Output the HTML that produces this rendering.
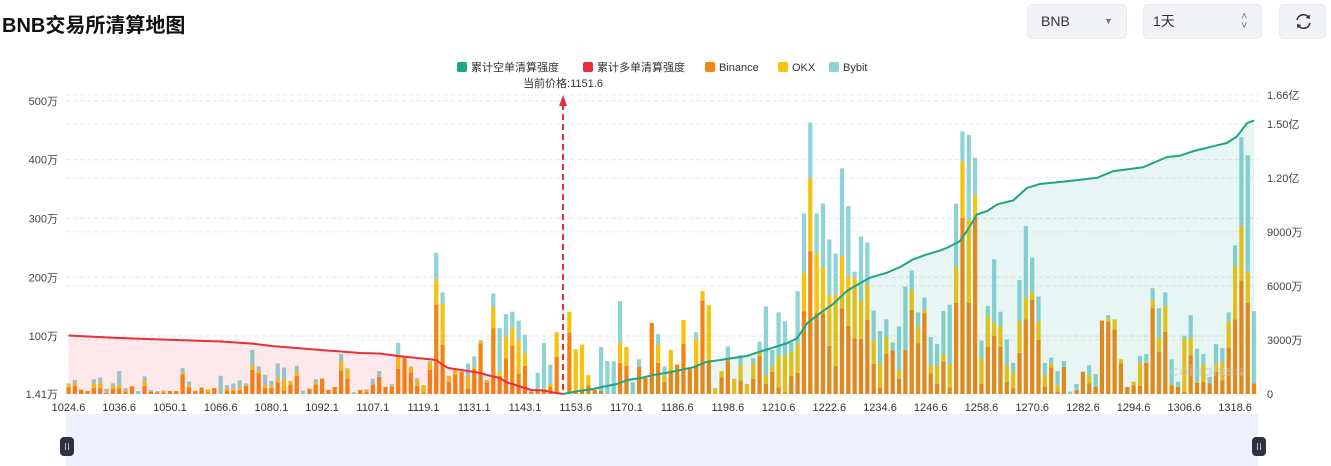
<!DOCTYPE html>
<html><head><meta charset="utf-8">
<style>
html,body{margin:0;padding:0;background:#fff;}
body{width:1331px;height:466px;position:relative;overflow:hidden;font-family:"Liberation Sans","Noto Sans CJK SC",sans-serif;}
.title{position:absolute;left:2px;top:9px;font-size:20px;font-weight:bold;color:#111;}
.ctl{position:absolute;top:4px;height:35px;background:#f1f3f6;border-radius:5px;border:1px solid #e8ebef;box-sizing:border-box;font-size:14px;color:#333;line-height:33px;}
</style></head>
<body>
<div class="title">BNB交易所清算地图</div>
<div class="ctl" style="left:1027px;width:100px;"><span style="position:absolute;left:13px;">BNB</span><span style="position:absolute;left:76px;top:0;font-size:9px;color:#777;">▼</span></div>
<div class="ctl" style="left:1143px;width:119px;"><span style="position:absolute;left:9px;">1天</span><span style="position:absolute;left:97px;top:-1px;font-size:11px;color:#777;line-height:9px;padding-top:9px;">˄<br>˅</span></div>
<div class="ctl" style="left:1279px;width:47px;">
<svg width="47" height="33" viewBox="0 0 47 33"><g fill="none" stroke="#333" stroke-width="1.6"><path d="M17 15 a6.5 6.5 0 0 1 12 -2"/><path d="M30 18 a6.5 6.5 0 0 1 -12 2"/></g><path d="M29.5 9.5 L30 14 L25.8 13 Z" fill="#333"/><path d="M17.5 23.5 L17 19 L21.2 20 Z" fill="#333"/></svg></div>
<svg id="chart" width="1331" height="466" style="position:absolute;left:0;top:0;"></svg>
<script>
const tickLabels=["1024.6","1036.6","1050.1","1066.6","1080.1","1092.1","1107.1","1119.1","1131.1","1143.1","1153.6","1170.1","1186.6","1198.6","1210.6","1222.6","1234.6","1246.6","1258.6","1270.6","1282.6","1294.6","1306.6","1318.6"];
const leftTicks=[1.41,100,200,300,400,500];
const leftTickLabels=["1.41万","100万","200万","300万","400万","500万"];
const rightTicks=[0,3000,6000,9000,12000,15000,16600];
const rightTickLabels=["0","3000万","6000万","9000万","1.20亿","1.50亿","1.66亿"];
const currentPriceIndex=78;
const currentPriceLabel="当前价格:1151.6";
const binance=[11,14,7,5,10,10,2,9,10,4,12,0,14,4,3,3,5,5,33,11,5,11,3,10,0,6,6,6,14,41,35,10,10,20,6,16,31,0,9,16,26,7,12,40,26,0,7,4,16,29,12,12,43,62,37,14,3,41,152,84,20,33,38,9,43,86,20,112,31,61,82,34,48,4,6,6,13,63,2,105,3,6,15,7,5,0,0,53,48,0,46,27,121,53,20,40,50,85,43,48,159,57,0,28,57,0,23,0,26,65,17,38,11,3,31,36,141,243,137,137,82,48,146,116,95,94,126,51,11,68,74,26,75,143,86,137,35,17,56,11,155,300,155,301,17,80,99,80,21,10,70,127,160,92,12,45,4,46,0,7,38,18,12,125,123,110,52,12,15,14,53,146,72,106,15,12,4,66,19,21,18,38,23,79,127,193,155,18];
const okx=[4,5,1,0,7,9,2,5,5,2,2,0,8,0,0,3,0,0,4,4,0,0,5,0,0,4,2,4,1,8,4,6,3,6,17,6,7,0,0,3,0,0,0,16,17,0,0,2,0,0,0,2,22,2,9,10,12,13,43,69,11,8,0,21,3,4,4,36,7,36,31,57,21,0,0,3,4,42,0,35,73,78,17,0,0,0,0,34,32,0,0,0,0,31,12,35,0,41,0,45,16,94,10,11,0,26,26,17,26,6,15,10,54,63,41,51,65,124,102,78,86,120,88,84,102,66,61,41,41,29,0,15,0,34,29,6,14,32,12,40,60,96,141,37,44,52,22,34,28,27,53,37,14,31,20,6,11,0,0,0,0,14,0,0,6,17,7,0,6,39,2,14,23,43,3,0,89,30,2,30,0,14,32,44,91,93,53,0];
const bybit=[3,5,0,0,8,9,5,4,24,4,0,5,8,3,2,0,0,0,7,6,0,0,0,0,31,5,10,13,3,26,8,17,9,26,22,0,10,6,0,6,0,0,0,12,1,3,0,2,10,10,0,3,22,0,1,3,0,2,45,20,0,0,0,22,18,2,0,23,74,39,27,34,32,0,30,78,33,0,0,0,0,0,0,0,75,56,56,71,0,20,13,0,0,18,15,0,0,0,0,12,0,0,0,0,24,0,17,0,9,18,117,27,74,58,15,88,101,95,68,109,95,71,150,120,11,108,71,50,55,30,14,74,108,33,24,21,48,36,73,101,109,51,145,64,30,18,108,26,44,16,71,122,58,43,21,11,24,10,4,10,0,17,22,0,5,0,0,0,0,12,13,20,51,24,41,9,6,38,56,17,11,33,23,16,35,151,198,123];
const longIdx=[0,4,8,13,17,24,29,32,35,40,43,46,49,52,55,58,59,60,62,65,66,68,69,71,73,75,76,78];
const longCum=[3250,3180,3110,3050,3000,2915,2800,2665,2580,2440,2360,2275,2250,2110,2000,1890,1610,1440,1330,1165,1055,890,665,445,220,195,110,0];
const shortIdx=[78,80.7,82.7,84.9,86.5,88.1,90.1,92.2,94.4,96.5,98.5,100.7,102.8,104.8,107,109,111.1,113.3,114.9,116.5,118.5,120.6,122.8,124.8,126.4,129.1,131.2,133.2,135.4,137.5,138.6,140.6,141.7,143.3,144.9,146.5,149,151.2,153.2,157.5,162.2,164.7,169.5,173.3,175.3,177.3,180.5,182.7,184.3,185.9,187];
const shortCum=[0,183,278,444,555,777,871,1055,1183,1333,1482,1793,1888,1999,2110,2350,2570,2815,3093,3925,4480,4997,5735,6143,6457,6735,7050,7475,7750,7975,8120,8490,9050,9970,10160,10530,10750,11440,11660,11810,12000,12365,12590,13160,13230,13470,13750,13935,14300,15040,15190];

const NS="http://www.w3.org/2000/svg";
const svg=document.getElementById('chart');
const X0=68.5,STEP=6.34,BASE=394;
const xAt=i=>X0+i*STEP;
const yL=v=>BASE-(v-1.41)*0.5877;
const yR=v=>BASE-v*0.018012;
function mk(tag,attrs,parent){const e=document.createElementNS(NS,tag);for(const k in attrs)e.setAttribute(k,attrs[k]);(parent||svg).appendChild(e);return e;}

// slider
const sl=mk('rect',{x:66,y:414,width:1192,height:52,fill:'#eef1fd'});


[67,1259].forEach((hx,k)=>{
  const h=mk('rect',{x:hx-7,y:437,width:14,height:19,rx:4,fill:'#2e3142'});
  
  
  mk('line',{x1:hx-1.5,y1:443,x2:hx-1.5,y2:450,stroke:'#bbb','stroke-width':1});
  mk('line',{x1:hx+1.5,y1:443,x2:hx+1.5,y2:450,stroke:'#bbb','stroke-width':1});
});

// grid
leftTicks.forEach((v,i)=>{ if(i===0)return;
  const g=mk('line',{x1:66,x2:1258,y1:yL(v),y2:yL(v),stroke:'#e6e6e6','stroke-dasharray':'4 3','stroke-width':1});
  
  
});
rightTicks.forEach((v,i)=>{ if(i===0)return;
  const g=mk('line',{x1:66,x2:1258,y1:yR(v),y2:yR(v),stroke:'#ececec','stroke-dasharray':'4 3','stroke-width':1});
  
  
});

// axis labels
leftTicks.forEach((v,i)=>{
  const t=mk('text',{x:58,y:yL(v)+4,'text-anchor':'end','font-size':11,fill:'#444'});
  t.textContent=leftTickLabels[i];
  
  
});
rightTicks.forEach((v,i)=>{
  const t=mk('text',{x:1267,y:yR(v)+4,'font-size':11,fill:'#444'});
  t.textContent=rightTickLabels[i];
  
  
});
tickLabels.forEach((s,k)=>{
  const t=mk('text',{x:xAt(k*8),y:411,'text-anchor':'middle','font-size':11,fill:'#333'});
  t.textContent=s;
  
  
});

// bars
const BW=4.2;
binance.forEach((b,i)=>{
  const segs=[[b,'#f5850f','binance'],[okx[i],'#f6c20c','okx'],[bybit[i],'#8ed3d7','bybit']];
  let acc=0;
  segs.forEach(([v,c,n])=>{
    if(v<=0)return;
    const y1=BASE-acc*0.5877, y2=BASE-(acc+v)*0.5877;
    const r=mk('rect',{x:xAt(i)-BW/2,y:y2,width:BW,height:y1-y2,fill:c});
    
    
    acc+=v;
  });
});

// areas + lines
function linePts(idx,vals){return idx.map((i,k)=>[xAt(i),yR(vals[k])]);}
const lp=linePts(longIdx,longCum), sp=linePts(shortIdx,shortCum);
const pathD=p=>p.map((q,k)=>(k?'L':'M')+q[0].toFixed(1)+' '+q[1].toFixed(1)).join(' ');
const la=mk('path',{d:pathD(lp)+` L${lp[lp.length-1][0]} ${BASE} L${lp[0][0]} ${BASE} Z`,fill:'rgba(240,70,90,0.12)'});


const sa=mk('path',{d:pathD(sp)+` L${sp[sp.length-1][0]} ${BASE} L${sp[0][0]} ${BASE} Z`,fill:'rgba(30,170,140,0.10)'});


const ll=mk('path',{d:pathD(lp),fill:'none',stroke:'#e8303d','stroke-width':2,'stroke-linejoin':'round'});


const sl2=mk('path',{d:pathD(sp),fill:'none',stroke:'#1fa584','stroke-width':2,'stroke-linejoin':'round'});



// watermark
const wm=mk('text',{x:1170,y:376,'font-size':16,'font-weight':'bold',fill:'rgba(200,200,200,0.5)'});
wm.textContent='coinglass';



// current price marker
const cx=xAt(currentPriceIndex);
const cl=mk('line',{x1:cx,x2:cx,y1:104,y2:BASE,stroke:'#e0303c','stroke-width':2,'stroke-dasharray':'6 4'});


mk('path',{d:`M${cx-4} 106 L${cx} 95 L${cx+4} 106 Z`,fill:'#e0303c'});
const ct=mk('text',{x:cx,y:87,'text-anchor':'middle','font-size':11,fill:'#333'});
ct.textContent=currentPriceLabel;



// legend
const legend=[['累计空单清算强度','#1fa584',457],['累计多单清算强度','#e8303d',583],['Binance','#f5850f',705],['OKX','#f6c20c',778],['Bybit','#8ed3d7',829]];
legend.forEach(([s,c,x])=>{
  const g=mk('g',{});
  
  
  mk('rect',{x:x,y:62,width:10,height:10,rx:2,fill:c},g);
  const t=mk('text',{x:x+14,y:71,'font-size':11,fill:'#333'},g);
  t.textContent=s;
});
</script>
</body></html>
